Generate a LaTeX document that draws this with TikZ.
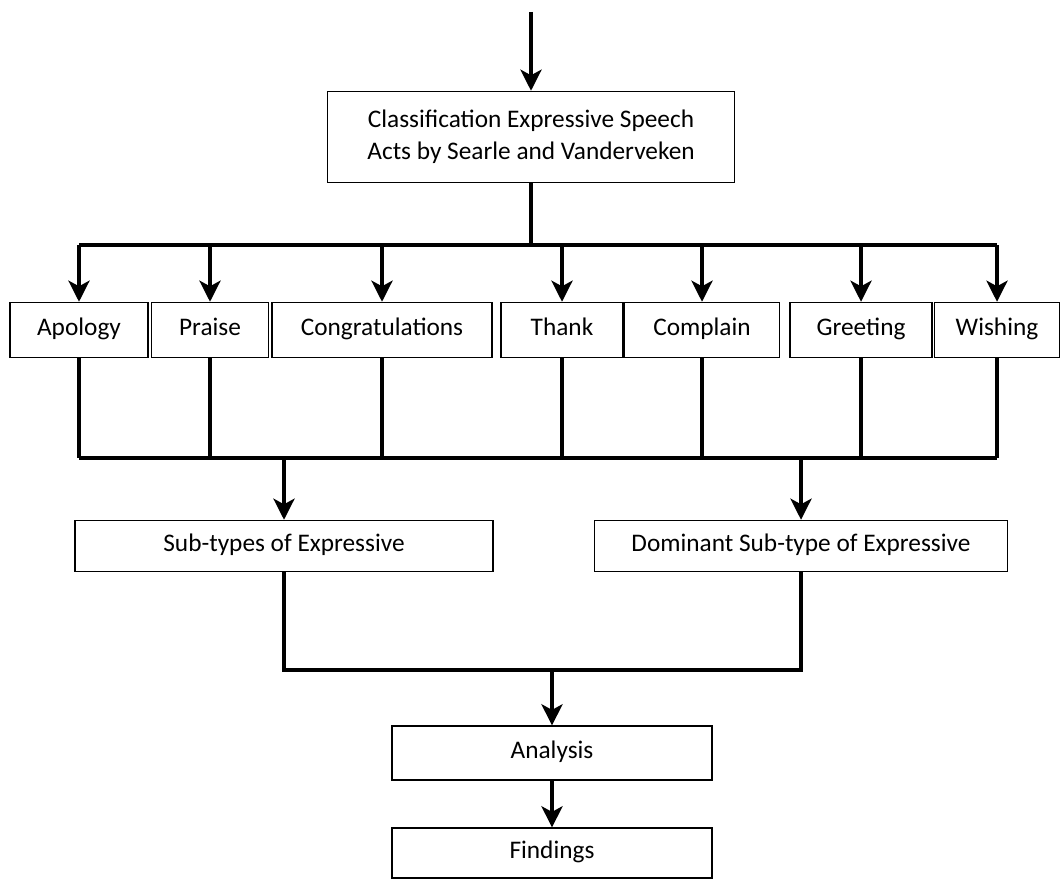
\documentclass[tikz,border=0pt]{standalone}
\usepackage{fontspec}
\setmainfont{Carlito}
\usetikzlibrary{arrows.meta}

\begin{document}
\begin{tikzpicture}[x=0.025cm, y=-0.025cm, font=\fontsize{18}{23}\selectfont]

        % Setup the styles for boxes and lines
        \tikzset{box style/.style={rectangle,
                                   draw=black,
                                   line width=0.9pt,
                                   fill=white,
                                   align=center,
                                   inner sep=0pt,
                                   minimum height=1.38cm},
                 row style/.style={box style, text height=9pt, text depth=1pt},
                 link/.style={line width=2.6pt, draw=black},
                 arrow/.style={link, -{Stealth[length=15pt, width=15pt, inset=4pt]}}}

        \useasboundingbox (0,0) rectangle (1062,880);

        % Draw the boxes
        \node[box style, minimum width=10.18cm, minimum height=2.28cm] at (531, 137) (cls)
            {Classification Expressive Speech\\Acts by Searle and Vanderveken};

        \node[row style, minimum width=3.45cm] at (79, 330)  (apology)  {Apology};
        \node[row style, minimum width=2.93cm] at (210, 330) (praise)   {Praise};
        \node[row style, minimum width=5.5cm]  at (382, 330) (congrat)  {Congratulations};
        \node[row style, minimum width=3.05cm] at (562, 330) (thank)    {Thank};
        \node[row style, minimum width=3.88cm] at (702, 330) (complain) {Complain};
        \node[row style, minimum width=3.55cm] at (861, 330) (greeting) {Greeting};
        \node[row style, minimum width=3.13cm] at (997, 330) (wishing)  {Wishing};

        \node[row style, minimum width=10.45cm, minimum height=1.28cm] at (284, 546) (subtypes) {Sub-types of Expressive};
        \node[row style, minimum width=10.33cm, minimum height=1.28cm] at (801, 546) (dominant) {Dominant Sub-type of Expressive};

        \node[row style, minimum width=8cm, minimum height=1.35cm]  at (552, 753) (analysis) {Analysis};
        \node[row style, minimum width=8cm, minimum height=1.25cm]  at (552, 853) (findings) {Findings};

        % Points where the lines meet
        \coordinate (start) at (531, 12);
        \coordinate (bus)   at (531, 245);
        \coordinate (busb)  at (531, 458);
        \coordinate (join)  at (552, 670);

        % Connect the boxes
        \draw[arrow] (start) -- (cls.north);
        \draw[link] (cls.south) -- (bus);
        \draw[link] (apology.north |- bus) -- (wishing.north |- bus);
        \foreach \n in {apology, praise, congrat, thank, complain, greeting, wishing}
            \draw[arrow] (\n.north |- bus) -- (\n.north);

        \foreach \n in {apology, praise, congrat, thank, complain, greeting, wishing}
            \draw[link] (\n.south) -- (\n.south |- busb);
        \draw[link] (apology.south |- busb) -- (wishing.south |- busb);
        \draw[arrow] (subtypes.north |- busb) -- (subtypes.north);
        \draw[arrow] (dominant.north |- busb) -- (dominant.north);

        \draw[link] (subtypes.south) -- (subtypes.south |- join)
                    -- (dominant.south |- join) -- (dominant.south);
        \draw[arrow] (join) -- (analysis.north);
        \draw[arrow] (analysis.south) -- (findings.north);

\end{tikzpicture}
\end{document}
